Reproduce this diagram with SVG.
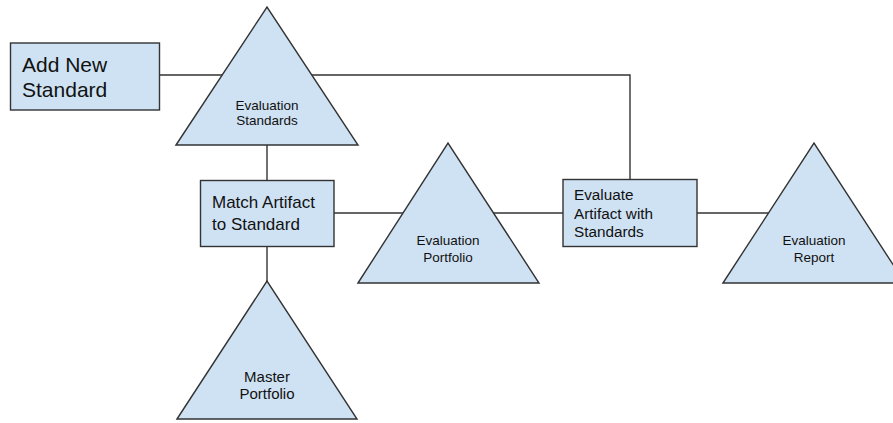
<svg xmlns="http://www.w3.org/2000/svg" width="893" height="423" viewBox="0 0 893 423">
<style>
.shape{fill:#cfe2f3;stroke:#333333;stroke-width:1.4}
.conn{fill:none;stroke:#333333;stroke-width:1.4}
text{font-family:"Liberation Sans",Arial,sans-serif;fill:#111111}
.tri{text-anchor:middle;font-size:13.5px}
</style>
<rect width="893" height="423" fill="#ffffff"/>
<g id="connectors">
<polyline class="conn" points="160,75 630,75 630,180"/>
<line class="conn" x1="267" y1="145" x2="267" y2="180"/>
<line class="conn" x1="334" y1="213" x2="563" y2="213"/>
<line class="conn" x1="697" y1="213" x2="814" y2="213"/>
<line class="conn" x1="267" y1="247" x2="267" y2="281"/>
</g>
<g id="add-new-standard">
<rect class="shape" x="10.5" y="43" width="149" height="67"/>
<text x="22" y="72" font-size="21">Add New</text>
<text x="22" y="97" font-size="21">Standard</text>
</g>
<g id="evaluation-standards">
<polygon class="shape" points="176,145 267,7 358,145"/>
<text class="tri" x="267" y="110">Evaluation</text>
<text class="tri" x="267" y="125">Standards</text>
</g>
<g id="match-artifact">
<rect class="shape" x="200.5" y="180.5" width="133.5" height="66"/>
<text x="212" y="208" font-size="17">Match Artifact</text>
<text x="212" y="230" font-size="17">to Standard</text>
</g>
<g id="evaluation-portfolio">
<polygon class="shape" points="358,283 448,143 539,283"/>
<text class="tri" x="448" y="245">Evaluation</text>
<text class="tri" x="448" y="262">Portfolio</text>
</g>
<g id="evaluate-artifact">
<rect class="shape" x="563" y="179.5" width="134" height="67"/>
<text x="574" y="200" font-size="15.3">Evaluate</text>
<text x="574" y="219" font-size="15.3">Artifact with</text>
<text x="574" y="237" font-size="15.3">Standards</text>
</g>
<g id="evaluation-report">
<polygon class="shape" points="723,283 814,143 905,283"/>
<text class="tri" x="814" y="245">Evaluation</text>
<text class="tri" x="814" y="262">Report</text>
</g>
<g id="master-portfolio">
<polygon class="shape" points="177,419 267,281 357,419"/>
<text x="267" y="382" font-size="15" text-anchor="middle">Master</text>
<text x="267" y="399" font-size="15" text-anchor="middle">Portfolio</text>
</g>
</svg>
